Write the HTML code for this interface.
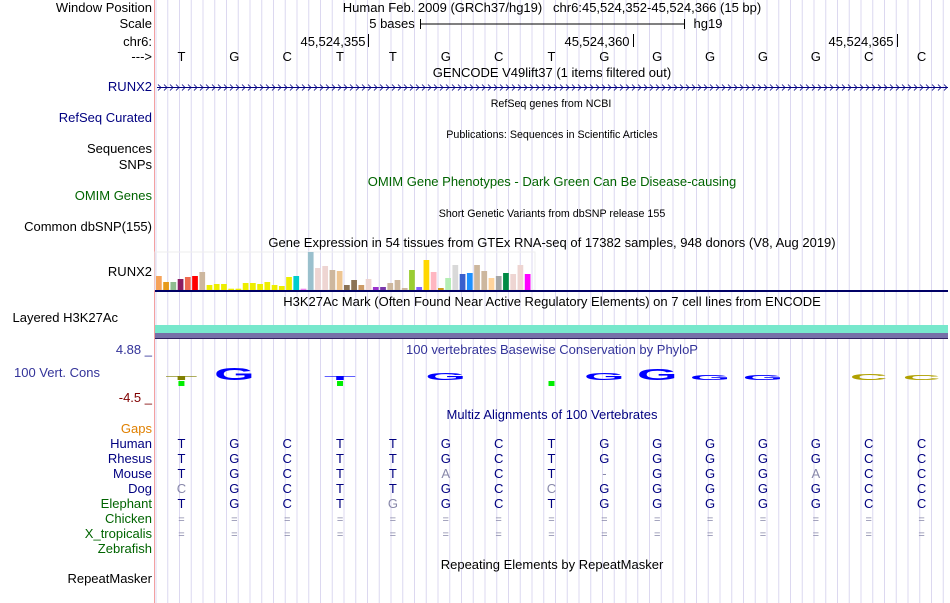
<!DOCTYPE html>
<html><head><meta charset="utf-8">
<style>
body{margin:0;background:#fff;width:950px;height:603px;overflow:hidden;position:relative;font-family:"Liberation Sans",sans-serif;}
.l{position:absolute;right:798px;font-size:13px;white-space:nowrap;line-height:14px;color:#000}
.t{position:absolute;font-size:13px;white-space:nowrap;line-height:14px;transform:translateX(-50%)}
.s{font-size:10.7px}
svg{position:absolute;left:0;top:0}
</style></head><body>
<svg width="950" height="603" id="g"></svg>

<div class="l" style="top:1px">Window Position</div>
<div class="l" style="top:17px">Scale</div>
<div class="l" style="top:35px">chr6:</div>
<div class="l" style="top:50px">---&gt;</div>
<div class="l" style="top:80px;color:#000080">RUNX2</div>
<div class="l" style="top:111px;color:#000080">RefSeq Curated</div>
<div class="l" style="top:142px">Sequences</div>
<div class="l" style="top:158px">SNPs</div>
<div class="l" style="top:189px;color:#006400">OMIM Genes</div>
<div class="l" style="top:220px">Common dbSNP(155)</div>
<div class="l" style="top:265px">RUNX2</div>
<div class="l" style="top:311px;right:832px">Layered H3K27Ac</div>
<div class="l" style="top:343px;color:#333399">4.88 _</div>
<div class="l" style="top:366px;right:850px;color:#333399">100 Vert. Cons</div>
<div class="l" style="top:391px;color:#800000">-4.5 _</div>
<div class="l" style="top:422px;color:#e08000">Gaps</div>
<div class="l" style="top:437px;color:#000080">Human</div>
<div class="l" style="top:452px;color:#000080">Rhesus</div>
<div class="l" style="top:467px;color:#000080">Mouse</div>
<div class="l" style="top:482px;color:#000080">Dog</div>
<div class="l" style="top:497px;color:#006400">Elephant</div>
<div class="l" style="top:512px;color:#006400">Chicken</div>
<div class="l" style="top:527px;color:#006400">X_tropicalis</div>
<div class="l" style="top:542px;color:#006400">Zebrafish</div>
<div class="l" style="top:572px">RepeatMasker</div>

<div class="t" style="left:552px;top:1px">Human Feb. 2009 (GRCh37/hg19)&nbsp;&nbsp;&nbsp;chr6:45,524,352-45,524,366 (15 bp)</div>
<div class="t" style="left:392px;top:17px">5 bases</div>
<div class="t" style="left:708px;top:17px">hg19</div>
<div class="t" style="left:333px;top:35px">45,524,355</div>
<div class="t" style="left:597px;top:35px">45,524,360</div>
<div class="t" style="left:861px;top:35px">45,524,365</div>
<div class="t" style="left:552px;top:66px">GENCODE V49lift37 (1 items filtered out)</div>
<div class="t s" style="left:551px;top:97px">RefSeq genes from NCBI</div>
<div class="t s" style="left:552px;top:128px">Publications: Sequences in Scientific Articles</div>
<div class="t" style="left:552px;top:175px;color:#006400">OMIM Gene Phenotypes - Dark Green Can Be Disease-causing</div>
<div class="t s" style="left:552px;top:207px">Short Genetic Variants from dbSNP release 155</div>
<div class="t" style="left:552px;top:236px">Gene Expression in 54 tissues from GTEx RNA-seq of 17382 samples, 948 donors (V8, Aug 2019)</div>
<div class="t" style="left:552px;top:295px">H3K27Ac Mark (Often Found Near Active Regulatory Elements) on 7 cell lines from ENCODE</div>
<div class="t" style="left:552px;top:343px;color:#333399">100 vertebrates Basewise Conservation by PhyloP</div>
<div class="t" style="left:552px;top:408px;color:#000080">Multiz Alignments of 100 Vertebrates</div>
<div class="t" style="left:552px;top:558px">Repeating Elements by RepeatMasker</div>

<script>
const bases=["T","G","C","T","T","G","C","T","G","G","G","G","G","C","C"];
const gtexHeights=[14,8,8,11,13,14,18,5,6,6,1.3,1.3,7,7,6,8,5,4,13,14,1.3,38,22,24,20,19,5,10,5,11,3,3,7,10,2,20,3,30,18,2,12,25,16,17,25,19,12,14,17,16,25,16];
const gtexColors=["#f6a35a","#e79a1a","#8fbc8f","#8b1c62","#ee6a50","#ff0000","#cdb79e","#eeee00","#eeee00","#eeee00","#eeee00","#eeee00","#eeee00","#eeee00","#eeee00","#eeee00","#eeee00","#eeee00","#eeee00","#00cdcd","#ee82ee","#9ac0cd","#eed5d2","#eed5d2","#cdb79e","#eec591","#8b7355","#8b7355","#cd9b67","#eed5d2","#9a32cd","#7a37ab","#cdb79e","#cdb79e","#cdb79e","#9acd32","#7f5fff","#ffd700","#ffb6c1","#cd9b1d","#b4eeb4","#d9d9d9","#3a5fcd","#1e90ff","#cdb79e","#cdb79e","#ffd39b","#a6a6a6","#008b45","#eed5d2","#eed5d2","#ff00ff"];
const consScores=[0.3,1.0,0,0.3,0,0.6,0.1,0.1,0.6,0.9,0.4,0.4,0,0.5,0.4];
const consLetters=["T","G","","T","","G","","","G","G","G","G","","C","C"];
const consColors=["#808000","#0000ff","#000","#0000ff","#000","#0000ff","#808000","#00ff00","#0000ff","#0000ff","#0000ff","#0000ff","#000","#b0a000","#b0a000"];
const rhesus=bases;
const mouse=["T","G","C","T","T","A","C","T","-","G","G","G","A","C","C"];
const mouseGrey=[0,0,0,0,0,1,0,0,1,0,0,0,1,0,0];
const dog=["C","G","C","T","T","G","C","C","G","G","G","G","G","C","C"];
const dogGrey=[1,0,0,0,0,0,0,1,0,0,0,0,0,0,0];
const eleph=["T","G","C","T","G","G","C","T","G","G","G","G","G","C","C"];
const elephGrey=[0,0,0,0,1,0,0,0,0,0,0,0,0,0,0];

const svg=document.getElementById('g');const NS="http://www.w3.org/2000/svg";
function mk(t,a,p){const e=document.createElementNS(NS,t);for(const k in a)e.setAttribute(k,a[k]);(p||svg).appendChild(e);return e;}
const X0=155,X1=948,bw=(X1-X0)/bases.length;
const bx=i=>X0+(i+0.5)*bw;
for(let x=156;x<X1;x+=11.75){const l=mk('line',{x1:x,x2:x,y1:0,y2:603,stroke:'#dcd8f0','stroke-width':1});

}
let e=mk('line',{x1:154.5,x2:154.5,y1:0,y2:603,stroke:'#f4a0a0'});


e=mk('path',{d:'M420.5,19V29M420.5,24H684.5M684.5,19V29',stroke:'#000',fill:'none'});


[368.5,633.5,897.5].forEach(x=>{const t=mk('line',{x1:x,x2:x,y1:34,y2:47,stroke:'#000'});

});
function txt(x,y,s,c,name,fs){const t=mk('text',{x:x,y:y,'text-anchor':'middle','font-size':fs||13,fill:c,'font-family':'Liberation Sans, sans-serif'});t.textContent=s;

return t;}
bases.forEach((b,i)=>txt(bx(i),61,b,'#000','ruler-base'));
e=mk('line',{x1:157,x2:948,y1:87.5,y2:87.5,stroke:'#000080'});


let d='';for(let x=158;x<946;x+=6)d+=`M${x},84.5L${x+3},87.5L${x},90.5`;
e=mk('path',{d:d,stroke:'#000080',fill:'none','stroke-width':0.8});


e=mk('rect',{x:155,y:252,width:380,height:38,fill:'none',stroke:'#eeeeee'});


const pitch=376/gtexHeights.length;
gtexHeights.forEach((h,i)=>{const r=mk('rect',{x:156+i*pitch,y:290-h,width:pitch-1.5,height:h,fill:gtexColors[i]});

});
e=mk('rect',{x:155,y:290,width:793,height:2,fill:'#000066'});


e=mk('rect',{x:155,y:325,width:793,height:8,fill:'#77e8cc'});


e=mk('rect',{x:155,y:333,width:793,height:5,fill:'#7670a8'});


e=mk('rect',{x:155,y:338,width:793,height:1,fill:'#302060'});


consLetters.forEach((L,i)=>{if(!L)return;const s=consScores[i];const hgt=Math.max(2,s*12);
const t=mk('text',{x:0,y:0,'text-anchor':'middle','font-size':20,'font-weight':'bold',fill:consColors[i],'font-family':'Liberation Sans, sans-serif',transform:`translate(${bx(i)},380) scale(2.6,${hgt/14})`});t.textContent=L;

});
[[0,'#00ee00'],[3,'#00ee00'],[7,'#00ee00']].forEach(([i,c])=>{const r=mk('rect',{x:bx(i)-3,y:381,width:6,height:5,fill:c});

});
const rows=[[bases,null,444],[rhesus,null,459],[mouse,mouseGrey,474],[dog,dogGrey,489],[eleph,elephGrey,504]];
rows.forEach(([arr,gr,y])=>arr.forEach((b,i)=>txt(bx(i),y+4,b,gr&&gr[i]?'#8888aa':'#000080','alignment-base')));
[519,534].forEach(y=>bases.forEach((b,i)=>txt(bx(i),y+4,'=','#8888aa','alignment-gap',11)));
</script>
</body></html>
